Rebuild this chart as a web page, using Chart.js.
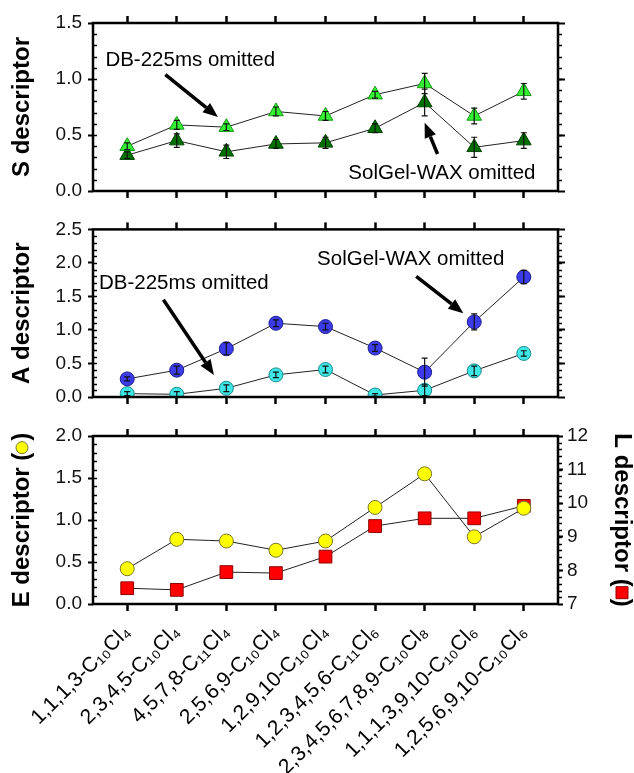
<!DOCTYPE html>
<html>
<head>
<meta charset="utf-8">
<script src="https://cdn.jsdelivr.net/npm/chart.js@4.4.1/dist/chart.umd.min.js"></script>
<style>
  body { margin: 0; background: #fff; }
  .panel { position: absolute; left: 0; width: 634px; }
</style>
</head>
<body>
<div class="panel" style="top:0;height:212px"><canvas id="sChart"></canvas></div>
<div class="panel" style="top:212px;height:205px"><canvas id="aChart"></canvas></div>
<div class="panel" style="top:417px;height:356px"><canvas id="elChart"></canvas></div>
<script>
const FONT = 'Arial, "Liberation Sans", Helvetica, sans-serif';

// compounds on the x axis
const compounds = [
  '1,1,1,3-C₁₀Cl₄', '2,3,4,5-C₁₀Cl₄', '4,5,7,8-C₁₁Cl₄', '2,5,6,9-C₁₀Cl₄',
  '1,2,9,10-C₁₀Cl₄', '1,2,3,4,5,6-C₁₁Cl₆', '2,3,4,5,6,7,8,9-C₁₀Cl₈',
  '1,1,1,3,9,10-C₁₀Cl₆', '1,2,5,6,9,10-C₁₀Cl₆'
];

// S descriptor (light = DB-225ms omitted, dark = SolGel-WAX omitted)
const sNoDB = [0.40, 0.59, 0.57, 0.71, 0.67, 0.86, 0.96, 0.67, 0.89];
const sNoDBErr = [0.03, 0.04, 0.03, 0.04, 0.04, 0.03, 0.09, 0.07, 0.07];
const sNoWax = [0.32, 0.45, 0.35, 0.42, 0.43, 0.56, 0.79, 0.39, 0.45];
const sNoWaxErr = [0.03, 0.06, 0.06, 0.04, 0.05, 0.04, 0.12, 0.09, 0.07];

// A descriptor (blue = SolGel-WAX omitted, cyan = DB-225ms omitted)
const aNoWax = [0.27, 0.40, 0.72, 1.10, 1.05, 0.73, 0.37, 1.12, 1.79];
const aNoWaxErr = [0.03, 0.06, 0.09, 0.05, 0.05, 0.05, 0.21, 0.12, 0.10];
const aNoDB = [0.05, 0.04, 0.13, 0.33, 0.41, 0.03, 0.10, 0.39, 0.65];
const aNoDBErr = [0.03, 0.04, 0.05, 0.04, 0.05, 0.02, 0.08, 0.07, 0.04];

// E and L descriptors
const eDesc = [0.42, 0.77, 0.75, 0.64, 0.75, 1.15, 1.55, 0.80, 1.14];
const lDesc = [7.47, 7.42, 7.95, 7.92, 8.41, 9.32, 9.55, 9.55, 9.92];

// tick labels
const sTicks = [0, 0.5, 1.0, 1.5];
const aTicks = [0, 0.5, 1.0, 1.5, 2.0, 2.5];
const eTicks = [0, 0.5, 1.0, 1.5, 2.0];
const lTicks = [7, 8, 9, 10, 11, 12];

// error bars, frame, minor ticks, notes and arrows
const decor = {
  id: 'decor',
  afterDatasetsDraw(chart) {
    const ctx = chart.ctx;
    ctx.save();
    ctx.strokeStyle = '#111';
    ctx.lineWidth = 1.2;
    chart.data.datasets.forEach((ds, i) => {
      if (!ds.errors) return;
      const meta = chart.getDatasetMeta(i);
      const ys = chart.scales[meta.yAxisID];
      meta.data.forEach((pt, j) => {
        const e = ds.errors[j];
        const v = ds.data[j].y;
        const top = ys.getPixelForValue(v + e), bot = ys.getPixelForValue(v - e);
        ctx.beginPath();
        ctx.moveTo(pt.x, top); ctx.lineTo(pt.x, bot);
        ctx.moveTo(pt.x - 3, top); ctx.lineTo(pt.x + 3, top);
        ctx.moveTo(pt.x - 3, bot); ctx.lineTo(pt.x + 3, bot);
        ctx.stroke();
      });
    });
    ctx.restore();
  },
  afterDraw(chart, args, opts) {
    const ctx = chart.ctx, ca = chart.chartArea;
    ctx.save();
    ctx.strokeStyle = '#000';
    ctx.lineWidth = 2.5;
    ctx.strokeRect(ca.left, ca.top, ca.right - ca.left, ca.bottom - ca.top);

    // minor ticks: inward on the left, outward on the right
    ctx.lineWidth = 1.5;
    Object.values(chart.scales).forEach(s => {
      const step = s.options.minor;
      if (!step) return;
      const n = Math.round((s.max - s.min) / step);
      const x0 = s.position === 'left' ? ca.left : ca.right;
      ctx.beginPath();
      for (let k = 1; k < n; k++) {
        const y = Math.round(s.getPixelForValue(s.min + k * step)) + 0.5;
        ctx.moveTo(x0, y); ctx.lineTo(x0 + 4, y);
      }
      ctx.stroke();
    });

    const xs = chart.scales.x, ys = chart.scales.y;
    ctx.fillStyle = '#000';
    ctx.font = '20.5px ' + FONT;
    ctx.textAlign = 'left';
    ctx.textBaseline = 'middle';
    (opts.notes || []).forEach(n => {
      ctx.fillText(n.text, xs.getPixelForValue(n.x), ys.getPixelForValue(n.y));
    });
    (opts.arrows || []).forEach(a => {
      const x1 = xs.getPixelForValue(a.from[0]), y1 = ys.getPixelForValue(a.from[1]);
      const x2 = xs.getPixelForValue(a.to[0]), y2 = ys.getPixelForValue(a.to[1]);
      const ang = Math.atan2(y2 - y1, x2 - x1);
      const hl = 15, hw = 6;
      const bx = x2 - hl * Math.cos(ang), by = y2 - hl * Math.sin(ang);
      ctx.lineWidth = 3.5;
      ctx.beginPath(); ctx.moveTo(x1, y1); ctx.lineTo(bx, by); ctx.stroke();
      ctx.beginPath();
      ctx.moveTo(x2, y2);
      ctx.lineTo(bx + hw * Math.sin(ang), by - hw * Math.cos(ang));
      ctx.lineTo(bx - hw * Math.sin(ang), by + hw * Math.cos(ang));
      ctx.closePath();
      ctx.fill();
    });

    // coloured symbols inside the axis titles
    (opts.titleMarks || []).forEach(m => {
      const s = chart.scales[m.axis];
      const t = s.options.title;
      ctx.font = 'bold 24px ' + FONT;
      const text = t.text;
      const full = ctx.measureText(text).width;
      const idx = text.indexOf('\u2002');
      const d = ctx.measureText(text.slice(0, idx)).width + ctx.measureText('\u2002').width / 2;
      const cy = (s.top + s.bottom) / 2;
      let x, y;
      if (s.position === 'left') { x = s.left + t.padding + 12; y = cy + full / 2 - d; }
      else { x = s.right - t.padding - 12; y = cy - full / 2 + d; }
      ctx.fillStyle = m.color;
      ctx.strokeStyle = m.border;
      ctx.lineWidth = 1;
      ctx.beginPath();
      if (m.shape === 'circle') ctx.arc(x, y + 1, 6, 0, Math.PI * 2);
      else ctx.rect(x - 6, y - 6, 12, 12);
      ctx.fill();
      ctx.stroke();
    });
    ctx.restore();
  }
};

function series(vals, errs, style, fill, border, radius, yAxisID) {
  return {
    data: vals.map((y, i) => ({ x: i, y: y })),
    errors: errs,
    yAxisID: yAxisID || 'y',
    pointStyle: style,
    pointRadius: radius,
    pointBackgroundColor: fill,
    pointBorderColor: border,
    pointBorderWidth: 1,
    borderColor: '#222',
    borderWidth: 1,
    fill: false
  };
}

const catTicks = axis => { axis.ticks = compounds.map((c, i) => ({ value: i })); };

function xAxis(position, height, showLabels) {
  return {
    type: 'linear', position: position, min: -0.69, max: 8.69,
    afterBuildTicks: catTicks,
    afterFit: a => { a.height = height; },
    grid: { drawOnChartArea: false, drawTicks: true, tickLength: 7, tickWidth: 2.5, tickColor: '#000' },
    border: { display: false },
    ticks: {
      display: showLabels, autoSkip: false, minRotation: 45, maxRotation: 45,
      padding: 9, color: '#000', font: { family: FONT, size: 21 },
      callback: v => compounds[v]
    }
  };
}

function yAxis(position, tickVals, width, opts) {
  return {
    type: 'linear', position: position,
    min: tickVals[0], max: tickVals[tickVals.length - 1],
    minor: opts.minor,
    afterBuildTicks: a => { a.ticks = tickVals.map(v => ({ value: v })); },
    afterFit: a => { a.width = width; },
    grid: { drawOnChartArea: false, drawTicks: true, tickLength: opts.tickLength || 5, tickWidth: 2, tickColor: '#000' },
    border: { display: false },
    ticks: {
      display: opts.labels !== false, padding: position === 'left' ? 6 : 4,
      color: '#111', font: { family: FONT, size: 19 },
      callback: opts.fmt || (v => v.toFixed(1))
    },
    title: opts.title ? {
      display: true, text: opts.title, color: '#000', padding: opts.titlePad,
      font: { family: FONT, size: 24, weight: 'bold', lineHeight: 1 }
    } : { display: false }
  };
}

Chart.defaults.animation = false;
Chart.defaults.responsive = true;
Chart.defaults.maintainAspectRatio = false;

new Chart(document.getElementById('sChart'), {
  type: 'line',
  data: {
    datasets: [
      series(sNoDB, sNoDBErr, 'triangle', '#33f033', '#169916', 8.5),
      series(sNoWax, sNoWaxErr, 'triangle', '#007000', '#004400', 8.5)
    ]
  },
  options: {
    layout: { padding: { top: 15, bottom: 13, left: 0, right: 0 } },
    scales: {
      x: xAxis('bottom', 8, false),
      xTop: xAxis('top', 8, false),
      y: yAxis('left', sTicks, 93, { minor: 0.1, title: 'S descriptor', titlePad: 10 }),
      yR: yAxis('right', sTicks, 76, { minor: 0.1, labels: false, tickLength: 7 })
    },
    plugins: {
      legend: { display: false }, tooltip: { enabled: false },
      decor: {
        notes: [
          { text: 'DB-225ms omitted', x: -0.44, y: 1.17 },
          { text: 'SolGel-WAX omitted', x: 4.46, y: 0.16 }
        ],
        arrows: [
          { from: [0.77, 1.04], to: [1.83, 0.66] },
          { from: [6.26, 0.33], to: [6.0, 0.61] }
        ]
      }
    }
  },
  plugins: [decor]
});

new Chart(document.getElementById('aChart'), {
  type: 'line',
  data: {
    datasets: [
      series(aNoWax, aNoWaxErr, 'circle', '#3b3bea', '#1c1c8a', 7),
      series(aNoDB, aNoDBErr, 'circle', '#3ee6e6', '#1a8a8a', 7)
    ]
  },
  options: {
    layout: { padding: { top: 9, bottom: 12, left: 0, right: 0 } },
    scales: {
      x: xAxis('bottom', 8, false),
      xTop: xAxis('top', 8, false),
      y: yAxis('left', aTicks, 93, { minor: 0.1, title: 'A descriptor', titlePad: 10 }),
      yR: yAxis('right', aTicks, 76, { minor: 0.1, labels: false, tickLength: 7 })
    },
    plugins: {
      legend: { display: false }, tooltip: { enabled: false },
      decor: {
        notes: [
          { text: 'SolGel-WAX omitted', x: 3.83, y: 2.06 },
          { text: 'DB-225ms omitted', x: -0.57, y: 1.70 }
        ],
        arrows: [
          { from: [5.83, 1.80], to: [6.78, 1.25] },
          { from: [0.73, 1.45], to: [1.75, 0.33] }
        ]
      }
    }
  },
  plugins: [decor]
});

new Chart(document.getElementById('elChart'), {
  type: 'line',
  data: {
    datasets: [
      series(eDesc, null, 'circle', '#ffff00', '#77772a', 7, 'y'),
      series(lDesc, null, 'rect', '#ff0000', '#8a0000', 9, 'yR')
    ]
  },
  options: {
    layout: { padding: { top: 11, bottom: 0, left: 0, right: 0 } },
    scales: {
      x: xAxis('bottom', 169, true),
      xTop: xAxis('top', 8, false),
      y: yAxis('left', eTicks, 93, { minor: 0.1, title: 'E descriptor (\u2002)', titlePad: 10 }),
      yR: yAxis('right', lTicks, 76, { minor: 0.2, title: 'L descriptor (\u2002)', titlePad: 0, fmt: v => String(v) })
    },
    plugins: {
      legend: { display: false }, tooltip: { enabled: false },
      decor: {
        titleMarks: [
          { axis: 'y', shape: 'circle', color: '#ffff00', border: '#77772a' },
          { axis: 'yR', shape: 'square', color: '#ff0000', border: '#8a0000' }
        ]
      }
    }
  },
  plugins: [decor]
});
</script>
</body>
</html>
